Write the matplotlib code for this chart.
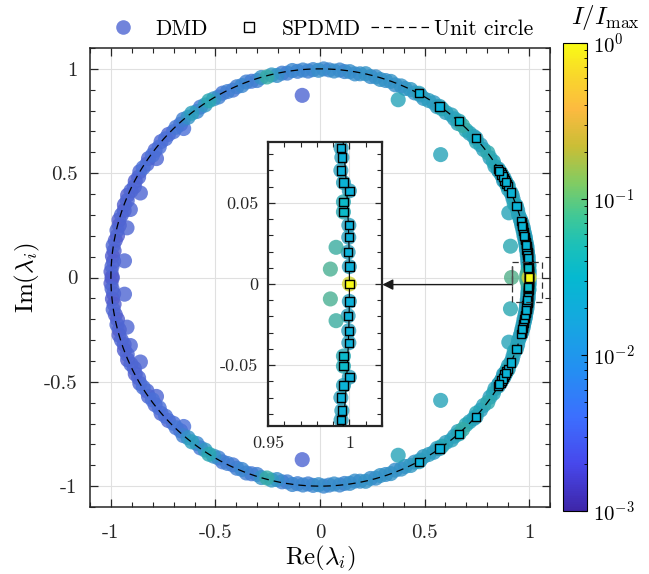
import matplotlib
matplotlib.use('Agg')

import numpy as np
import matplotlib.pyplot as plt
from matplotlib.colors import LinearSegmentedColormap, LogNorm
from matplotlib.lines import Line2D
from matplotlib.ticker import MultipleLocator
import matplotlib.cm as cm

plt.rcParams.update({
    'font.family': 'serif',
    'font.serif': ['cmr10'],
    'mathtext.fontset': 'cm',
    'axes.unicode_minus': False,
    'axes.formatter.use_mathtext': True,
})

# ---- data (upper half plane; eigenvalues come in conjugate pairs) ----
# DMD eigenvalues lying on / near the unit circle: angle (deg), modulus, log10(I/Imax)
ring_angle_deg = [
    16.4, 17.6, 18.9, 20.8, 22.1, 23.2, 25.1, 26.3, 27.9, 29.4,
    30.9, 32.5, 33.8, 35.2, 36.7, 38.1, 39.6, 41.0, 42.6, 44.0,
    45.3, 46.9, 48.2, 49.8, 51.1, 52.7, 54.2, 55.6, 57.0, 58.5,
    60.0, 61.3, 62.9, 64.3, 65.8, 67.1, 68.7, 70.2, 71.6, 73.1,
    74.5, 75.9, 77.4, 78.9, 80.3, 81.8, 83.2, 84.6, 86.1, 87.5,
    89.0, 90.4, 91.9, 93.3, 94.7, 96.2, 97.6, 99.1, 100.5, 102.0,
    103.4, 104.8, 106.3, 107.7, 109.2, 110.6, 112.1, 113.5, 114.9, 116.4,
    117.8, 119.3, 120.7, 122.1, 123.6, 125.0, 126.5, 127.9, 129.4, 130.8,
    132.2, 133.7, 135.1, 136.6, 138.0, 139.4, 140.9, 142.3, 143.8, 145.2,
    146.7, 148.1, 149.5, 151.0, 152.4, 153.9, 155.3, 156.8, 158.2, 159.6,
    161.1, 162.5, 164.0, 165.4, 166.9, 168.3, 169.7, 171.2, 172.6, 174.1,
    175.5, 176.9, 178.4, 179.8,
]
ring_modulus = [
    0.998, 0.996, 0.999, 0.994, 0.997, 1.000, 0.995, 0.998, 0.993, 0.999,
    0.996, 0.992, 0.998, 0.995, 1.001, 0.994, 0.997, 0.991, 0.999, 0.995,
    0.993, 0.998, 0.990, 0.996, 1.001, 0.994, 0.997, 0.992, 0.999, 0.995,
    0.991, 0.998, 0.994, 1.000, 0.993, 0.997, 0.991, 0.999, 0.995, 0.992,
    0.998, 0.993, 1.001, 0.995, 0.990, 0.997, 0.994, 0.999, 0.992, 0.996,
    1.000, 0.993, 0.997, 0.991, 0.998, 0.994, 1.001, 0.992, 0.996, 0.990,
    0.998, 0.994, 0.999, 0.991, 0.996, 1.001, 0.993, 0.997, 0.990, 0.995,
    0.999, 0.992, 0.996, 1.000, 0.993, 0.997, 0.990, 0.998, 0.994, 1.001,
    0.992, 0.996, 0.990, 0.998, 0.994, 1.001, 0.991, 0.997, 0.993, 0.999,
    0.990, 0.996, 1.000, 0.992, 0.997, 0.989, 0.995, 1.001, 0.993, 0.998,
    0.990, 0.996, 1.000, 0.992, 0.997, 0.989, 0.995, 1.001, 0.993, 0.998,
    0.990, 0.996, 1.000, 0.994,
]
ring_log_amp = [
    -1.7, -1.6, -1.7, -1.5, -1.7, -1.6, -1.6, -1.5, -1.7, -1.6,
    -1.7, -1.6, -1.5, -1.7, -1.4, -1.6, -1.7, -1.5, -1.7, -1.6,
    -1.5, -1.3, -1.6, -1.7, -1.6, -1.7, -1.5, -1.7, -1.8, -1.7,
    -1.8, -1.8, -1.9, -1.8, -1.9, -1.9, -2.0, -1.9, -2.0, -1.9,
    -2.0, -2.0, -1.9, -2.0, -2.0, -2.0, -2.1, -2.1, -2.0, -2.1,
    -2.1, -2.0, -2.1, -2.2, -2.1, -2.2, -2.1, -2.2, -2.2, -2.0,
    -1.8, -1.3, -1.9, -2.2, -2.3, -2.2, -2.1, -2.2, -2.3, -2.2,
    -2.3, -2.2, -1.9, -1.45, -1.8, -2.3, -2.1, -1.65, -1.9, -2.2,
    -2.4, -2.3, -2.4, -2.5, -2.4, -2.5, -2.4, -2.5, -2.4, -2.5,
    -2.5, -2.4, -2.5, -2.5, -2.6, -2.5, -2.5, -2.6, -2.5, -2.6,
    -2.6, -2.5, -2.6, -2.6, -2.5, -2.6, -2.6, -2.5, -2.6, -2.6,
    -2.6, -2.5, -2.6, -2.6,
]

# DMD eigenvalues inside the unit circle: Re, Im, log10(I/Imax)
inner_re = [-0.085, -0.652, -0.782, -0.859, -0.907, -0.923, -0.935,
            0.374, 0.577, 0.903, 0.911, 0.9918, 0.9883]
inner_im = [0.873, 0.714, 0.570, 0.405, 0.326, 0.238, 0.080,
            0.852, 0.589, 0.310, 0.150, 0.0226, 0.0092]
inner_log_amp = [-2.5, -2.4, -2.5, -2.5, -2.5, -2.5, -2.5,
                 -1.55, -1.55, -1.55, -1.45, -1.25, -1.15]
# real DMD eigenvalue inside the circle
real_re = [0.916]
real_log_amp = [-1.1]

# SPDMD (sparsity-promoting) modes, upper half: angle (deg), modulus, log10(I/Imax)
sp_angle_deg = [
    0.613, 1.124, 1.650, 2.074, 2.552, 2.907, 3.285, 3.589, 4.025, 4.481,
    4.815, 5.3, 5.8, 6.2, 6.7, 7.1, 7.6, 8.0, 8.5, 8.9,
    9.4, 9.8, 10.3, 10.7, 11.2, 11.6, 12.1, 12.5, 13.0, 13.4,
    13.9, 14.3, 14.8, 15.3, 15.8, 20.1, 24.0, 26.0, 26.6, 27.2,
    27.8, 28.4, 29.0, 29.6, 30.2, 30.8, 31.4, 41.8, 48.4, 55.1,
    61.8,
]
sp_modulus = [
    1.000, 0.9994, 1.000, 1.0003, 0.9973, 0.9976, 1.0016, 0.9983, 0.9972, 0.9984,
    0.9984, 0.998, 1.001, 0.997, 0.999, 1.000, 0.996, 0.999, 1.001, 0.997,
    0.999, 1.000, 0.997, 0.999, 1.001, 0.996, 0.999, 1.000, 0.997, 0.999,
    1.001, 0.997, 0.999, 1.000, 0.998, 1.000, 1.000, 1.002, 0.998, 1.000,
    0.997, 1.001, 0.999, 0.998, 1.000, 0.997, 0.999, 1.001, 1.002, 1.000,
    1.002,
]
sp_log_amp = [
    -1.65, -1.65, -1.65, -1.65, -1.45, -1.45, -1.65, -1.6, -1.65, -1.65,
    -1.65, -1.6, -1.7, -1.6, -1.65, -1.7, -1.6, -1.65, -1.7, -1.6,
    -1.65, -1.7, -1.6, -1.65, -1.7, -1.6, -1.65, -1.7, -1.6, -1.65,
    -1.7, -1.6, -1.65, -1.7, -1.6, -1.6, -1.6, -1.65, -1.7, -1.6,
    -1.65, -1.7, -1.6, -1.65, -1.7, -1.6, -1.65, -1.6, -1.5, -1.65,
    -1.65,
]
# dominant (mean flow) mode at lambda = 1
sp_real_re = [1.0]
sp_real_log_amp = [0.0]

tick_vals = [-1, -0.5, 0, 0.5, 1]
tick_labels = ['-1', '-0.5', '0', '0.5', '1']
inset_xticks = [0.95, 1.0]
inset_xlabels = ['0.95', '1']
inset_yticks = [-0.05, 0, 0.05]
inset_ylabels = ['-0.05', '0', '0.05']

# ---- assemble complex eigenvalues ----
ra = np.deg2rad(ring_angle_deg)
ring_re = np.array(ring_modulus) * np.cos(ra)
ring_im = np.array(ring_modulus) * np.sin(ra)
sa = np.deg2rad(sp_angle_deg)
sp_re_u = np.array(sp_modulus) * np.cos(sa)
sp_im_u = np.array(sp_modulus) * np.sin(sa)

up_re = np.concatenate([ring_re, inner_re, sp_re_u])
up_im = np.concatenate([ring_im, inner_im, sp_im_u])
up_amp = np.concatenate([ring_log_amp, inner_log_amp, sp_log_amp])
dmd_re = np.concatenate([up_re, up_re, real_re, sp_real_re])
dmd_im = np.concatenate([up_im, -up_im, np.zeros(2)])
dmd_amp = 10 ** np.concatenate([up_amp, up_amp, real_log_amp, sp_real_log_amp])
order = np.argsort(dmd_amp)
dmd_re, dmd_im, dmd_amp = dmd_re[order], dmd_im[order], dmd_amp[order]

sp_re = np.concatenate([sp_re_u, sp_re_u, sp_real_re])
sp_im = np.concatenate([sp_im_u, -sp_im_u, [0.0]])
sp_amp = 10 ** np.concatenate([sp_log_amp, sp_log_amp, sp_real_log_amp])
order = np.argsort(sp_amp)
sp_re, sp_im, sp_amp = sp_re[order], sp_im[order], sp_amp[order]

# parula-like colormap
parula = LinearSegmentedColormap.from_list('parula', [
    (0.00, (0.243, 0.150, 0.660)),
    (0.10, (0.278, 0.282, 0.925)),
    (0.20, (0.235, 0.435, 0.998)),
    (0.30, (0.140, 0.560, 0.950)),
    (0.40, (0.085, 0.655, 0.880)),
    (0.50, (0.020, 0.725, 0.815)),
    (0.57, (0.110, 0.755, 0.720)),
    (0.63, (0.250, 0.785, 0.590)),
    (0.70, (0.500, 0.800, 0.390)),
    (0.78, (0.790, 0.745, 0.210)),
    (0.86, (0.990, 0.730, 0.250)),
    (0.93, (0.975, 0.840, 0.170)),
    (1.00, (0.977, 0.984, 0.081)),
])
norm = LogNorm(1e-3, 1)


def muted(amp, k=0.72, grey=0.45):
    # translucent-looking marker colours, as in the exported figure
    c = parula(norm(amp))
    c[:, :3] = k * c[:, :3] + (1 - k) * grey
    return c


dmd_col = muted(dmd_amp)

fig = plt.figure(figsize=(6.49, 5.74), dpi=100)
ax = fig.add_axes([90 / 649, 67 / 574, 460 / 649, 459 / 574])
axin = fig.add_axes([268 / 649, 148 / 574, 114 / 649, 284 / 574])
cax = fig.add_axes([563 / 649, 63 / 574, 23.5 / 649, 468 / 574])

th = np.linspace(0, 2 * np.pi, 1441)
for a, inset in ((ax, False), (axin, True)):
    a.scatter(dmd_re, dmd_im, c=dmd_col, s=118, alpha=0.8,
              edgecolors='none', zorder=2)
    if inset:
        a.plot(np.cos(th), np.sin(th), color='k', lw=0.8, zorder=3)
    else:
        a.plot(np.cos(th), np.sin(th), color='k', lw=0.9,
               linestyle=(0, (6, 4)), zorder=3)
    a.scatter(sp_re, sp_im, c=sp_amp, cmap=parula, norm=norm, marker='s',
              s=36, edgecolors='k', linewidths=1.0, zorder=4)
    a.set_axisbelow(True)
    a.grid(True, color=(0.88, 0.88, 0.88), lw=0.8)
    a.tick_params(which='both', direction='in', top=True, right=True,
                  colors=(0.15, 0.15, 0.15))
    for s in a.spines.values():
        s.set_color((0.15, 0.15, 0.15))

ax.set_xlim(-1.1, 1.1)
ax.set_ylim(-1.1, 1.1)
ax.set_xticks(tick_vals, tick_labels)
ax.set_yticks(tick_vals, tick_labels)
ax.xaxis.set_minor_locator(MultipleLocator(0.1))
ax.yaxis.set_minor_locator(MultipleLocator(0.1))
ax.tick_params(which='major', length=6, width=0.9, pad=9, labelsize=15)
ax.tick_params(axis='x', which='major', pad=12)
ax.tick_params(which='minor', length=3.5, width=0.8)
for s in ax.spines.values():
    s.set_linewidth(1.1)
ax.set_xlabel(r'$\mathrm{Re}(\lambda_i)$', fontsize=18, labelpad=2)
ax.set_ylabel(r'$\mathrm{Im}(\lambda_i)$', fontsize=18, labelpad=1)

axin.set_xlim(0.95, 1.02)
axin.set_ylim(-0.0875, 0.0875)
axin.set_xticks(inset_xticks, inset_xlabels)
axin.set_yticks(inset_yticks, inset_ylabels)
axin.xaxis.set_minor_locator(MultipleLocator(0.01))
axin.yaxis.set_minor_locator(MultipleLocator(0.01))
axin.tick_params(which='major', length=5, width=0.9, pad=7, labelsize=13)
axin.tick_params(which='minor', length=3.5, width=0.8)
for s in axin.spines.values():
    s.set_linewidth(1.6)

# zoom box and arrow
box_x = [0.916, 1.063]
box_y = [-0.117, 0.075]
ax.plot([box_x[0], box_x[1], box_x[1], box_x[0], box_x[0]],
        [box_y[1], box_y[1], box_y[0], box_y[0], box_y[1]],
        color=(0.2, 0.2, 0.2), lw=0.9, linestyle=(0, (5, 3)), zorder=5)
ax.plot([0.916, 0.916], [0.051, -0.034], color=(0.3, 0.3, 0.3), lw=1.0, zorder=5)
ax.annotate('', xy=(0.298, -0.034), xytext=(0.916, -0.034),
            arrowprops=dict(arrowstyle='-|>', color=(0.1, 0.1, 0.1), lw=1.0,
                            mutation_scale=16, shrinkA=0, shrinkB=0),
            zorder=5)

# colorbar
cb = fig.colorbar(cm.ScalarMappable(norm=norm, cmap=parula), cax=cax)
cb.outline.set_linewidth(0.8)
cax.tick_params(which='both', direction='in', labelsize=15, pad=5)
cax.tick_params(which='major', length=4)
cax.tick_params(which='minor', length=2.5)
fig.text(605 / 649, 1 - 17 / 574, r'$I/I_{\max}$', fontsize=18,
         ha='center', va='center')

# legend
handles = [
    Line2D([], [], ls='none', marker='o', markersize=10.5,
           markerfacecolor=muted(np.array([10 ** -2.5]))[0],
           markeredgecolor='none', alpha=0.8),
    Line2D([], [], ls='none', marker='s', markersize=6.5,
           markerfacecolor='white', markeredgecolor='k', markeredgewidth=1.0),
    Line2D([], [], color='k', lw=0.9, linestyle=(0, (6, 4))),
]
ax.legend(handles, ['DMD', 'SPDMD', 'Unit circle'], loc='center',
          bbox_to_anchor=(313 / 649, 1 - 29 / 574), bbox_transform=fig.transFigure,
          ncol=3, frameon=False, fontsize=15.5, handlelength=2.8,
          handletextpad=0.1, columnspacing=0.5)

plt.savefig('out.png', dpi=100)
